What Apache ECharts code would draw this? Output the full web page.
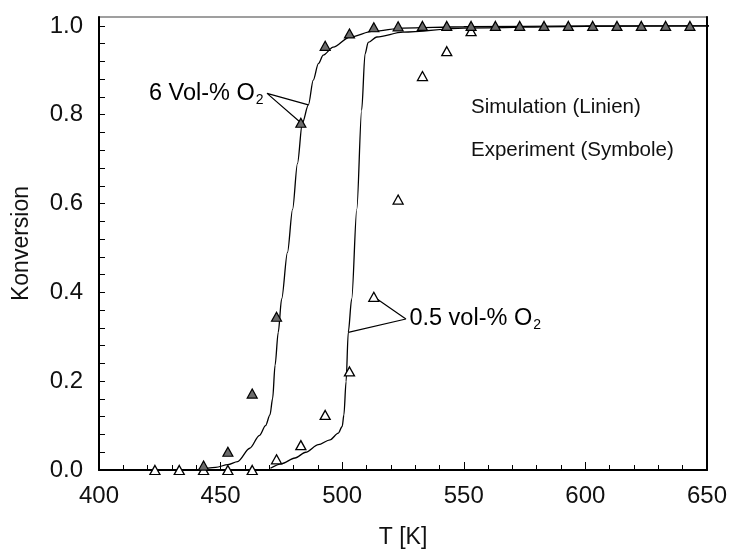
<!DOCTYPE html>
<html>
<head>
<meta charset="utf-8">
<script src="https://cdn.jsdelivr.net/npm/echarts@6/dist/echarts.min.js"></script>
<style>
  html, body { margin: 0; padding: 0; background: #fff; }
  #chart { width: 730px; height: 554px; }
</style>
</head>
<body>
<div id="chart"></div>
<script>
const FONT = '"Liberation Sans", Arial, Helvetica, sans-serif';

// Experiment, 6 Vol-% O2 (filled triangles)
const expHighT = [443, 453, 463, 473, 483, 493, 503, 513, 523, 533, 543, 553, 563, 573, 583, 593, 603, 613, 623, 633, 643];
const expHighX = [0.01, 0.041, 0.172, 0.345, 0.782, 0.955, 0.983, 0.997, 0.999, 1, 1, 1, 1, 1, 1, 1, 1, 1, 1, 1, 1];

// Experiment, 0.5 vol-% O2 (open triangles)
const expLowT = [423, 433, 443, 453, 463, 473, 483, 493, 503, 513, 523, 533, 543, 553];
const expLowX = [0, 0, 0, 0, 0, 0.024, 0.056, 0.124, 0.222, 0.39, 0.609, 0.887, 0.943, 0.988];

// Simulation, 6 Vol-% O2
const simHighT = [440, 448, 453, 457, 462, 466, 468.5, 470.3, 471.4, 472.4, 473.7, 475.1, 477.5, 479.6, 481.6, 483.6, 486.1, 488.1, 490.2, 492.2, 496.3, 503.2, 512.8, 525, 550, 600, 652.5];
const simHighX = [0, 0.006, 0.012, 0.019, 0.049, 0.078, 0.1, 0.124, 0.161, 0.236, 0.31, 0.385, 0.49, 0.587, 0.69, 0.781, 0.822, 0.878, 0.915, 0.934, 0.952, 0.975, 0.988, 0.995, 0.998, 1, 1];

// Simulation, 0.5 vol-% O2
const simLowT = [470.5, 475, 480.6, 485, 490.2, 495, 498.4, 500, 500.7, 501.6, 502.5, 503.9, 506, 508, 509.4, 510.7, 514.2, 525, 550, 600, 652.5];
const simLowX = [0.004, 0.014, 0.027, 0.04, 0.057, 0.068, 0.083, 0.098, 0.124, 0.199, 0.31, 0.385, 0.587, 0.81, 0.937, 0.963, 0.975, 0.986, 0.995, 0.999, 1];

// Axis ticks
const xTickStep = 50;
const yLabelValues = [0, 0.2, 0.4, 0.6, 0.8, 1.0];
const yTickValues = [0, 0.04, 0.08, 0.12, 0.16, 0.2, 0.24, 0.28, 0.32, 0.36, 0.4, 0.44, 0.48, 0.52, 0.56, 0.6,
                     0.64, 0.68, 0.72, 0.76, 0.8, 0.84, 0.88, 0.92, 0.96, 1.0];

// Annotation anchors (T, conversion) for the two curve labels
const labelHighAnchor = [469.1, 0.848];
const labelLowAnchor = [526.2, 0.340];
const labelHighText = ['6 Vol-% O', '2'];
const labelLowText = ['0.5 vol-% O', '2'];
const noteLines = ['Simulation (Linien)', 'Experiment (Symbole)'];

const zip = (a, b) => a.map((v, i) => [v, b[i]]);

// leader lines: curve point -> label anchor -> experimental point
const leaderHigh = [
  [simHighT[16], simHighX[16]], labelHighAnchor, [expHighT[4], expHighX[4]]
];
const leaderLow = [
  [simLowT[10], simLowX[10]], labelLowAnchor, [expLowT[9], expLowX[9]]
];

const richLabel = {
  a: { fontFamily: FONT, fontSize: 23.5, color: '#000' },
  s: { fontFamily: FONT, fontSize: 14, color: '#000', padding: [13, 0, 0, 1] }
};

const chart = echarts.init(document.getElementById('chart'), null, { renderer: 'canvas' });

chart.setOption({
  animation: false,
  backgroundColor: '#fff',
  textStyle: { fontFamily: FONT },
  grid: {
    left: 99, right: 23, top: 17, bottom: 82,
    show: true, borderColor: '#808080', borderWidth: 1.5, backgroundColor: 'transparent'
  },
  xAxis: {
    type: 'value', min: 400, max: 650, interval: xTickStep,
    name: 'T [K]', nameLocation: 'middle', nameGap: 56,
    nameTextStyle: { fontFamily: FONT, fontSize: 23, color: '#111' },
    axisLine: { lineStyle: { color: '#000', width: 2 } },
    axisTick: { inside: true, length: 8, lineStyle: { color: '#000', width: 1 } },
    minorTick: { show: true, splitNumber: 5, length: 5, lineStyle: { color: '#000', width: 1 } },
    axisLabel: { fontFamily: FONT, fontSize: 24, color: '#111', margin: 14 },
    splitLine: { show: false }
  },
  yAxis: [{
    type: 'value', min: 0, max: 1.02,
    name: 'Konversion', nameLocation: 'middle', nameGap: 66,
    nameTextStyle: { fontFamily: FONT, fontSize: 23, color: '#111' },
    axisLine: { show: true, lineStyle: { color: '#000', width: 2 } },
    axisTick: { show: true, inside: true, length: 6, customValues: yTickValues, lineStyle: { color: '#000', width: 1 } },
    axisLabel: { fontFamily: FONT, fontSize: 24, color: '#111', margin: 16, customValues: yLabelValues,
                 formatter: v => v.toFixed(1) },
    splitLine: { show: false }
  }, {
    type: 'value', min: 0, max: 1.02, position: 'right',
    axisLine: { show: true, lineStyle: { color: '#000', width: 2 } },
    axisTick: { show: false }, axisLabel: { show: false }, splitLine: { show: false }
  }],
  series: [
    {
      type: 'line', data: zip(simHighT, simHighX), showSymbol: false, symbol: 'none',
      smooth: 0.3, smoothMonotone: 'x', clip: false,
      lineStyle: { color: '#000', width: 1.3 }, z: 2
    },
    {
      type: 'line', data: zip(simLowT, simLowX), showSymbol: false, symbol: 'none',
      smooth: 0.3, smoothMonotone: 'x', clip: false,
      lineStyle: { color: '#000', width: 1.3 }, z: 2
    },
    {
      type: 'line', data: leaderHigh, symbol: 'none', lineStyle: { color: '#000', width: 1.2 }, z: 2
    },
    {
      type: 'line', data: leaderLow, symbol: 'none', lineStyle: { color: '#000', width: 1.2 }, z: 2
    },
    {
      type: 'scatter', data: zip(expLowT, expLowX), symbol: 'triangle', symbolSize: [10, 9], clip: false,
      itemStyle: { color: '#fff', borderColor: '#000', borderWidth: 1.3, opacity: 1 }, z: 3
    },
    {
      type: 'scatter', data: zip(expHighT, expHighX), symbol: 'triangle', symbolSize: [10, 9], clip: false,
      itemStyle: { color: '#6b6b6b', borderColor: '#000', borderWidth: 1.2, opacity: 1 }, z: 4
    },
    {
      // curve labels, attached to the leader-line anchors
      type: 'scatter', symbol: 'circle', symbolSize: 1, silent: true, z: 5,
      itemStyle: { color: 'rgba(255,255,255,0)', opacity: 1 },
      label: { color: '#000', textBorderWidth: 0 },
      data: [
        { value: labelHighAnchor, label: { show: true, position: 'left', distance: 3, color: '#000',
          formatter: '{a|' + labelHighText[0] + '}{s|' + labelHighText[1] + '}', rich: richLabel } },
        { value: labelLowAnchor, label: { show: true, position: 'right', distance: 3, color: '#000',
          formatter: '{a|' + labelLowText[0] + '}{s|' + labelLowText[1] + '}', rich: richLabel } }
      ]
    }
  ],
  graphic: [
    { type: 'text', left: 471, top: 97, style: { text: noteLines[0], font: '20.5px ' + FONT, fill: '#111' } },
    { type: 'text', left: 471, top: 140, style: { text: noteLines[1], font: '20.5px ' + FONT, fill: '#111' } }
  ]
});
</script>
</body>
</html>
